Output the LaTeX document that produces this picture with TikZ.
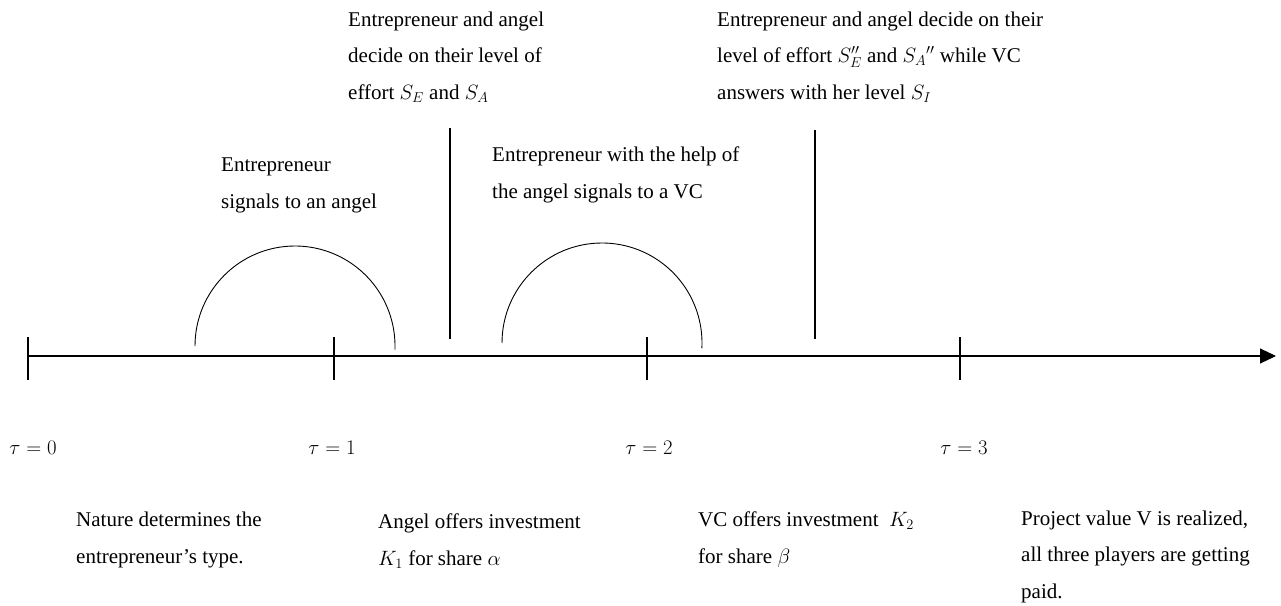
\documentclass[tikz,border=0pt]{standalone}
\usepackage{fontspec}
\setmainfont{Liberation Serif}
\usetikzlibrary{arrows.meta}
\begin{document}
\begin{tikzpicture}[x=1pt,y=-1pt,
  txt/.style={anchor=base west, inner sep=0pt, align=left, font=\fontsize{21}{36.5}\selectfont},
  tau/.style={anchor=base, inner sep=0pt, font=\fontsize{21}{36.5}\selectfont},
  ln/.style={line width=1.1pt, black},
  arcln/.style={line width=0.9pt, black}]
\useasboundingbox[fill=white] (0,0) rectangle (1281,605);

% axis
\coordinate (a0) at (28,356);
\coordinate (aend) at (1276,356);
\draw[ln,-{Triangle[length=16pt,width=15pt]}] (a0) -- (aend);

% ticks
\foreach \n/\x in {0/28,1/334,2/647,3/960}{
  \coordinate (k\n top) at (\x,337);
  \coordinate (k\n bot) at (\x,380);
  \draw[ln] (k\n top) -- (k\n bot);
}

% arcs
\coordinate (arcA) at (195,346);
\coordinate (arcB) at (502,343);
\draw[arcln] (arcA) arc[start angle=180,end angle=362,radius=100];
\draw[arcln] (arcB) arc[start angle=180,end angle=363,radius=100];

% vertical markers
\coordinate (v1t) at (450,128);
\coordinate (v1b) at (450,339);
\coordinate (v2t) at (815,130);
\coordinate (v2b) at (815,339);
\draw[ln] (v1t) -- (v1b);
\draw[ln] (v2t) -- (v2b);

% top texts (anchor = baseline of last line)
\node[txt] (t1) at (348,99) {Entrepreneur and angel\\decide on their level of\\effort $S_E$ and $S_A$};
\node[txt] (t2) at (717,99) {Entrepreneur and angel decide on their\\level of effort $S_E''$ and $S_A{}''$ while VC\\answers with her level $S_I$};
\node[txt] (t3) at (221,208) {Entrepreneur\\signals to an angel};
\node[txt] (t4) at (492,198) {Entrepreneur with the help of\\the angel signals to a VC};

% tau labels
\node[tau] (tau0) at (33,454) {$\tau = 0$};
\node[tau] (tau1) at (332,454) {$\tau = 1$};
\node[tau] (tau2) at (649,454) {$\tau = 2$};
\node[tau] (tau3) at (964,454) {$\tau = 3$};

% bottom texts
\node[txt] (b1) at (76,563) {Nature determines the\\entrepreneur’s type.};
\node[txt] (b2) at (378,565) {Angel offers investment\\$K_1$ for share $\alpha$};
\node[txt] (b3) at (698,563) {VC offers investment \ $K_2$\\for share $\beta$};
\node[txt] (b4) at (1021,598) {Project value V is realized,\\all three players are getting\\paid.};
\end{tikzpicture}
\end{document}
